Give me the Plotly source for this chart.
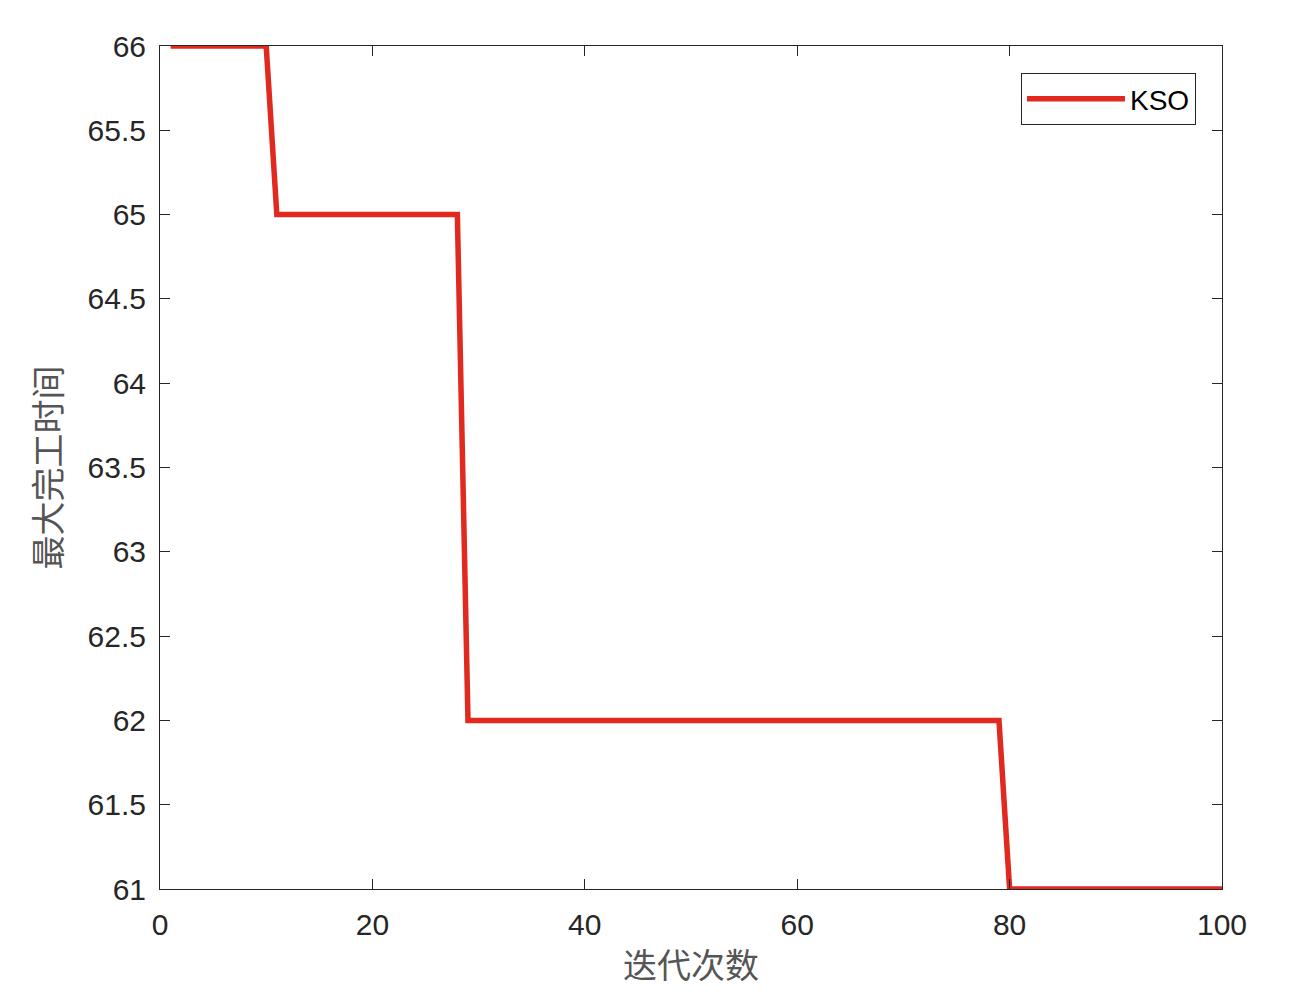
import plotly.graph_objects as go

# Breakpoints of the convergence curve (iteration, makespan)
iterations = [1, 10, 11, 28, 29, 79, 80, 100]
makespan = [66, 66, 65, 65, 62, 62, 61, 61]
series_name = "KSO"
x_ticks = [0, 20, 40, 60, 80, 100]
y_ticks = [61, 61.5, 62, 62.5, 63, 63.5, 64, 64.5, 65, 65.5, 66]

fig = go.Figure()
fig.add_trace(go.Scatter(
    x=iterations, y=makespan, mode="lines", name=series_name,
    line=dict(color="#E1291F", width=5.5),
))

axis_common = dict(
    showline=True, linecolor="#262626", linewidth=1, mirror="ticks",
    ticks="inside", ticklen=10, tickcolor="#262626", tickwidth=1,
    showgrid=False, zeroline=False,
    tickfont=dict(family="Liberation Sans, Arial, sans-serif", size=30, color="#262626"),
)

title_font = dict(family="Noto Sans CJK SC", size=34, color="#555555")

fig.update_layout(
    width=1292, height=1002,
    paper_bgcolor="white", plot_bgcolor="white",
    margin=dict(l=152, r=78, t=38, b=121),
    showlegend=True,
    legend=dict(
        x=0.9755, y=0.968, xanchor="right", yanchor="top",
        bordercolor="#262626", borderwidth=1, bgcolor="white",
        font=dict(family="Liberation Sans, Arial, sans-serif", size=28, color="#000000"),
        itemwidth=98, tracegroupgap=0,
    ),
    xaxis=dict(
        range=[0, 100], tickvals=x_ticks,
        ticklabelstandoff=9,
        title=dict(text="迭代次数", font=title_font, standoff=14),
        **axis_common,
    ),
    yaxis=dict(
        range=[61, 66], tickvals=y_ticks,
        ticktext=[("%g" % v) for v in y_ticks],
        ticklabelstandoff=7,
        title=dict(text="最大完工时间", font=title_font, standoff=15),
        **axis_common,
    ),
)

fig.write_html("out.html")
